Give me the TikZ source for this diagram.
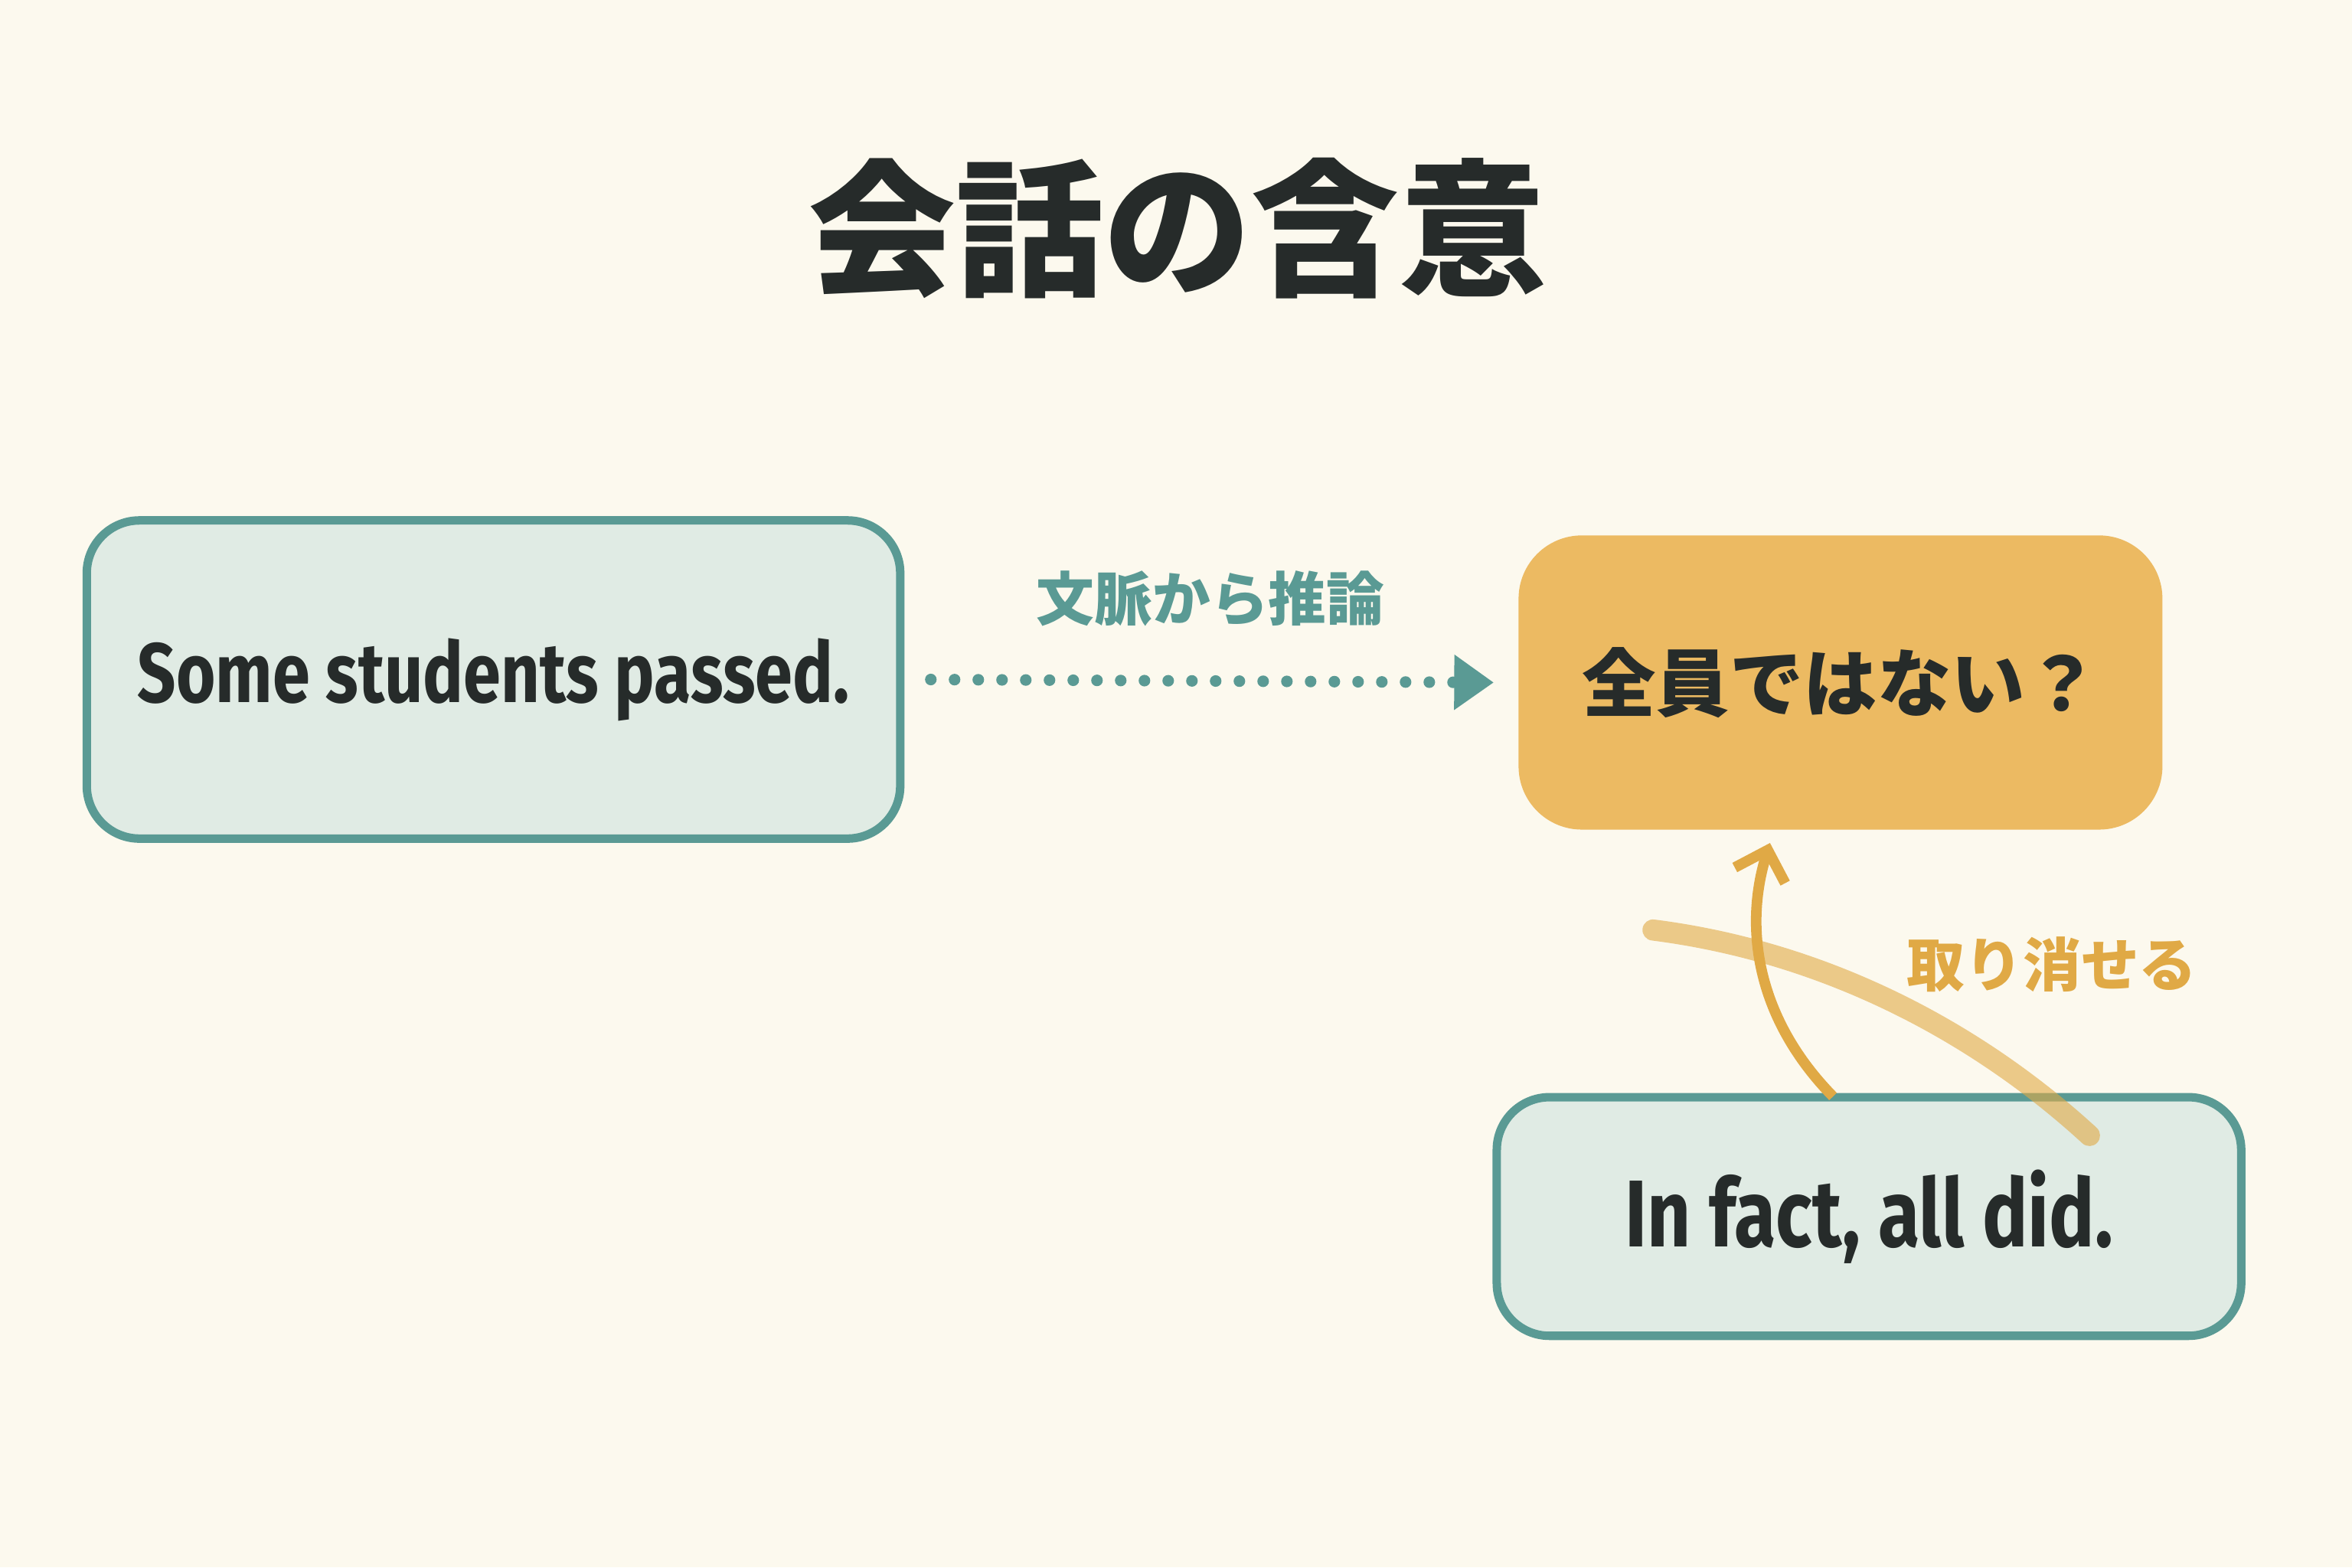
\documentclass[tikz,border=0pt]{standalone}
\usepackage{fontspec}
\setmainfont{Fira Sans}
\newfontfamily\cjk{Noto Sans CJK JP}
\usetikzlibrary{positioning,arrows.meta}
\definecolor{paper}{HTML}{FCF9EE}
\definecolor{tealline}{HTML}{5A9A94}
\definecolor{tealfill}{HTML}{E0EBE4}
\definecolor{ochre}{HTML}{ECBA62}
\definecolor{ochreline}{HTML}{E0A945}
\definecolor{ink}{HTML}{262B2A}
\newcommand{\narrow}[1]{\scalebox{0.8}[1]{#1}}
\tikzset{
  sentence/.style={draw=tealline, line width=1.6pt, fill=tealfill, rounded corners=10pt, text=ink, inner sep=0pt, font=\bfseries},
  guess/.style={fill=ochre, rounded corners=12pt, text=ink, font=\cjk\fontsize{14}{16}\selectfont\bfseries},
  tag/.style={font=\cjk\fontsize{11}{13}\selectfont\bfseries}
}
\begin{document}
\begin{tikzpicture}[x=0.01cm, y=-0.01cm]
    % Sfondo
    \fill[paper] (0,0) rectangle (1568,1045);
    \useasboundingbox (0,0) rectangle (1568,1045);

    % Titolo
    \node[text=ink, font=\cjk\fontsize{28}{32}\selectfont\bfseries] (title) at (785,152) {会話の含意};

    % Riquadri
    \node[sentence, minimum width=5.42cm, minimum height=2.12cm] (some) at (329,453)
        {\fontsize{16}{19}\selectfont\narrow{Some students passed.}};
    \node[guess, minimum width=4.29cm, minimum height=1.96cm] (notall) at (1227,455) {全員ではない？};
    \node[sentence, minimum width=4.96cm, minimum height=1.59cm] (infact) at (1246,811)
        {\fontsize{18}{21}\selectfont\narrow{In fact, all did.}};

    % Inferenza
    \draw[tealline, line width=2.2pt, dash pattern=on 0pt off 4.5pt, line cap=round, -{Triangle[length=7.5pt, width=10pt]}]
        ([xshift=5pt]some.east) -- ([xshift=-4.5pt]notall.west);
    \node[tag, text=tealline] (infer) at (807,399) {文脈から推論};

    % Cancellazione
    \coordinate (foot) at (1222,731);
    \coordinate (tip) at (1180,562);
    \draw[ochreline, line width=2pt, -{Straight Barb[length=5pt, width=10pt]}]
        (foot) .. controls (1172,680) and (1162,620) .. (tip);
    \draw[ochreline, opacity=0.6, line width=4pt, line cap=round]
        (1102,620) .. controls (1220,635) and (1320,690) .. (1393,757);
    \node[tag, text=ochreline] (cancel) at (1368,643) {取り消せる};
\end{tikzpicture}
\end{document}
